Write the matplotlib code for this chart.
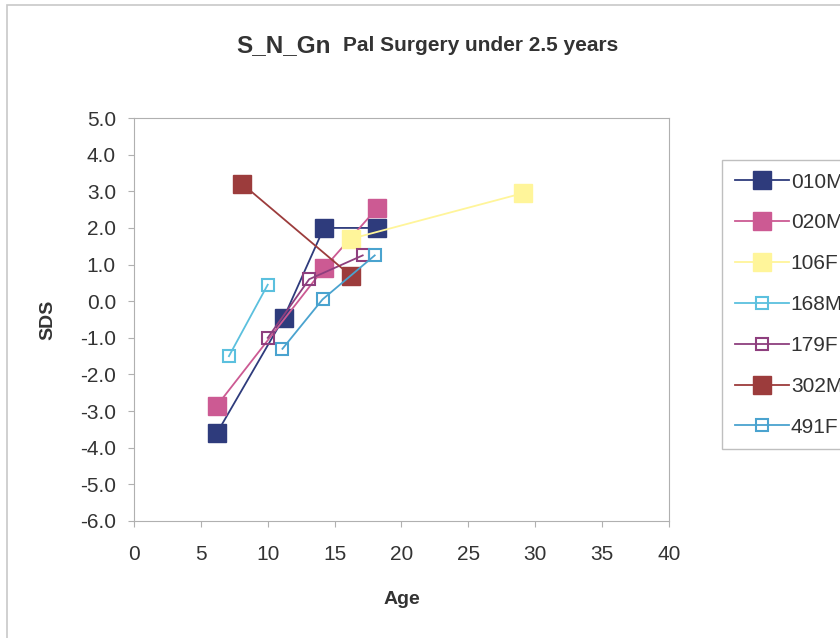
import matplotlib.pyplot as plt

plt.rcParams['font.family'] = ['Liberation Sans', 'DejaVu Sans']

# donnees
names = ['010M', '020M', '106F', '168M', '179F', '302M', '491F']
age_010M = [6.2, 11.2, 14.2, 18.2]
sds_010M = [-3.6, -0.45, 2.0, 2.0]
age_020M = [6.2, 14.2, 18.2]
sds_020M = [-2.85, 0.9, 2.55]
age_106F = [16.2, 29.1]
sds_106F = [1.7, 2.95]
age_168M = [7.1, 10.0]
sds_168M = [-1.5, 0.45]
age_179F = [10.0, 13.1, 17.1]
sds_179F = [-1.0, 0.6, 1.25]
age_302M = [8.1, 16.2]
sds_302M = [3.2, 0.7]
age_491F = [11.1, 14.1, 18.0]
sds_491F = [-1.3, 0.05, 1.25]

ages = [age_010M, age_020M, age_106F, age_168M, age_179F, age_302M, age_491F]
sdss = [sds_010M, sds_020M, sds_106F, sds_168M, sds_179F, sds_302M, sds_491F]

colors = ['#2e3b7c', '#cc5a93', '#fff59a', '#5bc0de', '#8e3f7e', '#9c3c3c', '#4aa3cf']
filled = [True, True, True, False, False, True, False]

fig = plt.figure(figsize=(8.4, 6.38), dpi=100)
fig.patch.set_facecolor('white')
# cadre exterieur
fig.add_artist(plt.Rectangle((7 / 840, -0.01), 1.0, 1 - 5 / 638 + 0.01, transform=fig.transFigure,
                             fill=False, edgecolor='#c8c8c8', linewidth=1.2))

ax = fig.add_axes([0.1595, 0.1834, 0.6369, 0.6316])

for i in range(len(names)):
    if filled[i]:
        ax.plot(ages[i], sdss[i], '-s', color=colors[i], markersize=12.5, linewidth=1.3,
                markerfacecolor=colors[i], markeredgecolor=colors[i], label=names[i])
    else:
        ax.plot(ages[i], sdss[i], '-s', color=colors[i], markersize=8, linewidth=1.3,
                markerfacecolor='none', markeredgecolor=colors[i], markeredgewidth=1.5, label=names[i])

ax.set_xlim(0, 40)
ax.set_ylim(-6, 5)
ax.set_xticks(range(0, 41, 5))
ax.set_yticks([v for v in range(-6, 6)])
ax.set_yticklabels(['%.1f' % v for v in range(-6, 6)])
for s in ax.spines.values():
    s.set_color('#b0b0b0')
ax.tick_params(colors='#b0b0b0', labelcolor='#333333', labelsize=15, length=4, direction='out')
ax.tick_params(axis='y', pad=9)
ax.tick_params(axis='x', pad=13)

ax.set_xlabel('Age', fontsize=14, fontweight='bold', color='#333333', labelpad=20)
ax.set_ylabel('SDS', fontsize=14, fontweight='bold', color='#333333', labelpad=17)

fig.text(331 / 840, 0.929, 'S_N_Gn', fontsize=17.5, fontweight='bold', color='#333333', ha='right', va='center')
fig.text(343 / 840, 0.929, 'Pal Surgery under 2.5 years', fontsize=15, fontweight='bold', color='#333333',
         ha='left', va='center')

leg = fig.legend(loc='upper left', bbox_to_anchor=(722 / 840, 1 - 160 / 638), fontsize=15,
                 frameon=True, fancybox=False, edgecolor='#b0b0b0', handlelength=2.6,
                 labelspacing=1.05, borderpad=0.6, borderaxespad=0, handletextpad=0.1,
                 markerscale=1.0)
for t in leg.get_texts():
    t.set_color('#333333')

fig.savefig('out.png', dpi=100)
